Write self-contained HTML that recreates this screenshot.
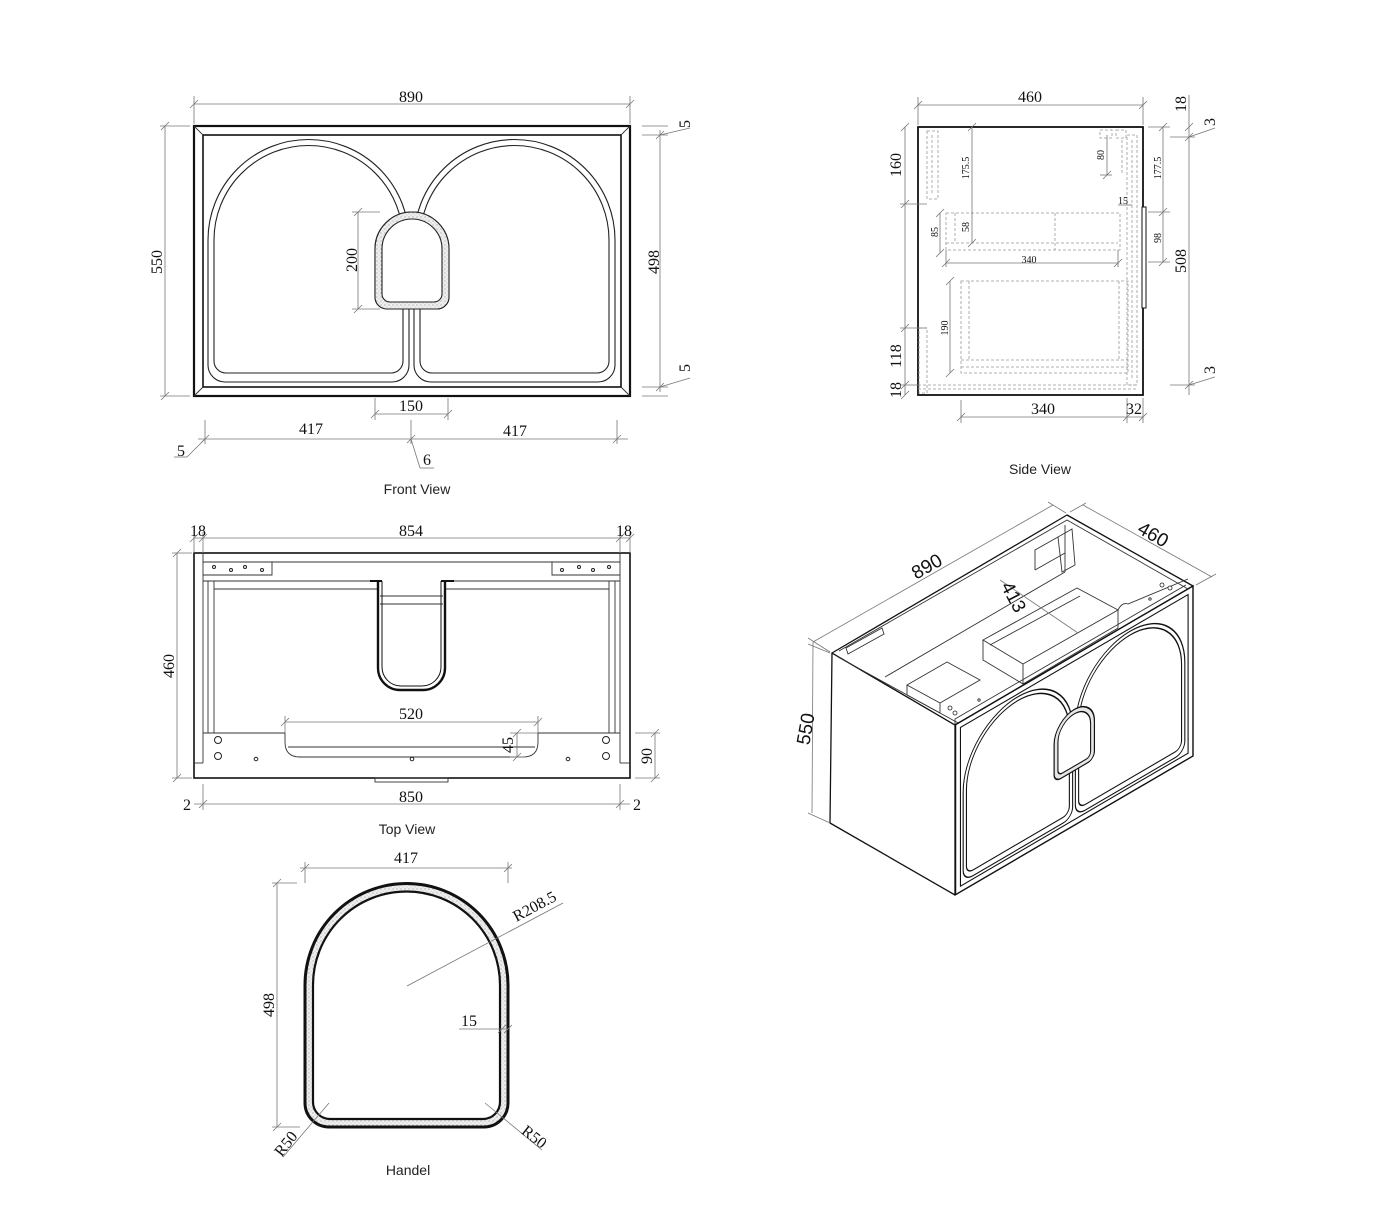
<!DOCTYPE html>
<html><head><meta charset="utf-8"><style>
html,body{margin:0;padding:0;background:#fff;}
svg{display:block;}
.o{fill:none;stroke:#111;stroke-width:1.6;}
.t{stroke:#222;stroke-width:1.1;}
.d{fill:none;stroke:#777;stroke-width:0.8;}
.k{fill:none;stroke:#333;stroke-width:0.9;}
.ds{fill:none;stroke:#999;stroke-width:0.8;stroke-dasharray:3 2;}
.n{font-family:"Liberation Serif",serif;font-size:16px;fill:#111;}
.s{font-family:"Liberation Serif",serif;font-size:10px;fill:#111;}
.lb{font-family:"Liberation Sans",sans-serif;font-size:14px;fill:#222;}
.iso{font-family:"Liberation Sans",sans-serif;font-size:19px;fill:#111;}
</style></head><body>
<svg width="1400" height="1207" viewBox="0 0 1400 1207" xmlns="http://www.w3.org/2000/svg">
<defs>
<pattern id="st" width="4" height="4" patternUnits="userSpaceOnUse"><rect width="4" height="4" fill="#eee"/><circle cx="1" cy="1" r="0.6" fill="#999"/><circle cx="3" cy="3" r="0.5" fill="#bbb"/></pattern>
</defs>

<!-- FRONT VIEW -->
<g>
<rect x="194" y="126" width="436" height="270" fill="#fff" stroke="#111" stroke-width="2.2"/>
<rect x="203" y="135" width="418" height="252" class="o"/>
<line x1="194" y1="126" x2="203" y2="135" class="k"/><line x1="630" y1="126" x2="621" y2="135" class="k"/>
<line x1="194" y1="396" x2="203" y2="387" class="k"/><line x1="630" y1="396" x2="621" y2="387" class="k"/>
<path d="M208,240 A100.5,100.5 0 0 1 409,240 L409,365 A17,17 0 0 1 392,382 L225,382 A17,17 0 0 1 208,365 Z" style="fill:#fff" class="t"/>
<path d="M214,240 A94.5,94.5 0 0 1 403,240 L403,361 A12,12 0 0 1 391,373 L226,373 A12,12 0 0 1 214,361 Z" style="fill:#fff" class="t"/>
<path d="M414,240 A100.5,100.5 0 0 1 615,240 L615,365 A17,17 0 0 1 598,382 L431,382 A17,17 0 0 1 414,365 Z" style="fill:#fff" class="t"/>
<path d="M420,240 A94.5,94.5 0 0 1 609,240 L609,361 A12,12 0 0 1 597,373 L432,373 A12,12 0 0 1 420,361 Z" style="fill:#fff" class="t"/>
<path d="M375,249 A37,37 0 0 1 449,249 L449,297 A12,12 0 0 1 437,309 L387,309 A12,12 0 0 1 375,297 Z" style="fill:#e6e6e6" class="t"/>
<path d="M375,249 A37,37 0 0 1 449,249 L449,297 A12,12 0 0 1 437,309 L387,309 A12,12 0 0 1 375,297 Z" style="fill:url(#st)" class="t"/>
<path d="M382,249 A30,30 0 0 1 442,249 L442,294 A8,8 0 0 1 434,302 L390,302 A8,8 0 0 1 382,294 Z" style="fill:#fff" class="t"/>
</g>
<g class="d">
<line x1="194" y1="104" x2="630" y2="104"/><line x1="194" y1="96" x2="194" y2="124"/><line x1="630" y1="96" x2="630" y2="124"/>
<line x1="190" y1="108" x2="198" y2="100"/><line x1="626" y1="108" x2="634" y2="100"/>
<line x1="165" y1="126" x2="165" y2="396"/><line x1="160" y1="126" x2="190" y2="126"/><line x1="160" y1="396" x2="190" y2="396"/>
<line x1="161" y1="130" x2="169" y2="122"/><line x1="161" y1="400" x2="169" y2="392"/>
<line x1="660" y1="130" x2="660" y2="392"/><line x1="642" y1="135" x2="668" y2="135"/><line x1="642" y1="387" x2="668" y2="387"/>
<line x1="642" y1="126" x2="668" y2="126"/><line x1="642" y1="396" x2="668" y2="396"/>
<line x1="656" y1="139" x2="664" y2="131"/><line x1="656" y1="391" x2="664" y2="383"/>
<line x1="660" y1="135" x2="690" y2="128"/><line x1="660" y1="387" x2="690" y2="378"/>
<line x1="358" y1="212" x2="358" y2="309"/><line x1="352" y1="212" x2="380" y2="212"/><line x1="352" y1="309" x2="380" y2="309"/>
<line x1="354" y1="216" x2="362" y2="208"/><line x1="354" y1="313" x2="362" y2="305"/>
<line x1="375" y1="398" x2="375" y2="420"/><line x1="448" y1="398" x2="448" y2="420"/><line x1="375" y1="414" x2="448" y2="414"/>
<line x1="371" y1="418" x2="379" y2="410"/><line x1="444" y1="418" x2="452" y2="410"/>
<line x1="205" y1="420" x2="205" y2="444"/><line x1="411" y1="420" x2="411" y2="444"/><line x1="617" y1="420" x2="617" y2="444"/>
<line x1="198" y1="439" x2="628" y2="439"/>
<line x1="201" y1="443" x2="209" y2="435"/><line x1="407" y1="443" x2="415" y2="435"/><line x1="613" y1="443" x2="621" y2="435"/>
<line x1="205" y1="439" x2="187" y2="457"/><line x1="187" y1="457" x2="174" y2="457"/>
<line x1="411" y1="439" x2="420" y2="468"/><line x1="420" y1="468" x2="434" y2="468"/>
</g>
<text class="n" x="411" y="102" text-anchor="middle">890</text>
<text class="n" transform="translate(162,262) rotate(-90)" text-anchor="middle">550</text>
<text class="n" transform="translate(659,262) rotate(-90)" text-anchor="middle">498</text>
<text class="n" transform="translate(690,124) rotate(-90)" text-anchor="middle">5</text>
<text class="n" transform="translate(690,368) rotate(-90)" text-anchor="middle">5</text>
<text class="n" transform="translate(357,260) rotate(-90)" text-anchor="middle">200</text>
<text class="n" x="411" y="411" text-anchor="middle">150</text>
<text class="n" x="311" y="434" text-anchor="middle">417</text>
<text class="n" x="515" y="436" text-anchor="middle">417</text>
<text class="n" x="181" y="456" text-anchor="middle">5</text>
<text class="n" x="427" y="465" text-anchor="middle">6</text>
<text class="lb" x="417" y="494" text-anchor="middle">Front View</text>

<!-- SIDE VIEW -->
<rect x="918" y="127" width="225" height="268" fill="#fff" stroke="#111" stroke-width="1.8"/>
<rect x="1142" y="207" width="4" height="101" fill="#fff" stroke="#111" stroke-width="1"/>
<g class="ds">
<rect x="927" y="131" width="11" height="68"/><line x1="932" y1="135" x2="932" y2="195"/>
<rect x="1100" y="130" width="12" height="8"/><rect x="1116" y="130" width="10" height="8"/>
<rect x="1127" y="135" width="10" height="250"/><line x1="1132" y1="140" x2="1132" y2="380"/>
<line x1="1122" y1="140" x2="1122" y2="175"/>
<line x1="918" y1="385" x2="1137" y2="385"/><line x1="918" y1="389" x2="1137" y2="389"/>
<rect x="946" y="213" width="174" height="37"/><line x1="946" y1="243" x2="1118" y2="243"/>
<line x1="1055" y1="213" x2="1055" y2="250"/><line x1="955" y1="213" x2="955" y2="243"/>
<rect x="961" y="281" width="167" height="92"/><line x1="969" y1="281" x2="969" y2="360"/><line x1="1119" y1="281" x2="1119" y2="360"/>
<line x1="961" y1="360" x2="1128" y2="360"/><line x1="961" y1="367" x2="1128" y2="367"/>
<rect x="919" y="328" width="8" height="65"/>
</g>
<g class="d">
<line x1="918" y1="105" x2="1143" y2="105"/><line x1="918" y1="97" x2="918" y2="125"/><line x1="1143" y1="97" x2="1143" y2="125"/>
<line x1="914" y1="109" x2="922" y2="101"/><line x1="1139" y1="109" x2="1147" y2="101"/>
<line x1="905" y1="127" x2="905" y2="395"/><line x1="900" y1="204" x2="927" y2="204"/><line x1="900" y1="328" x2="927" y2="328"/><line x1="900" y1="385" x2="920" y2="385"/>
<line x1="901" y1="131" x2="909" y2="123"/><line x1="901" y1="208" x2="909" y2="200"/><line x1="901" y1="332" x2="909" y2="324"/><line x1="901" y1="389" x2="909" y2="381"/><line x1="901" y1="399" x2="909" y2="391"/>
<line x1="972" y1="127" x2="972" y2="243"/><line x1="968" y1="131" x2="976" y2="123"/><line x1="968" y1="247" x2="976" y2="239"/>
<line x1="1107" y1="135" x2="1107" y2="175"/><line x1="1103" y1="179" x2="1111" y2="171"/><line x1="1100" y1="175" x2="1112" y2="175"/>
<line x1="940" y1="213" x2="940" y2="253"/><line x1="936" y1="217" x2="944" y2="209"/><line x1="936" y1="257" x2="944" y2="249"/>
<line x1="946" y1="263" x2="1118" y2="263"/><line x1="946" y1="250" x2="946" y2="267"/><line x1="1118" y1="250" x2="1118" y2="267"/>
<line x1="942" y1="267" x2="950" y2="259"/><line x1="1114" y1="267" x2="1122" y2="259"/>
<line x1="1118" y1="205" x2="1132" y2="205"/>
<line x1="950" y1="281" x2="950" y2="373"/><line x1="946" y1="285" x2="954" y2="277"/><line x1="946" y1="377" x2="954" y2="369"/>
<line x1="1163" y1="127" x2="1163" y2="262"/><line x1="1148" y1="127" x2="1170" y2="127"/><line x1="1148" y1="212" x2="1170" y2="212"/><line x1="1148" y1="262" x2="1170" y2="262"/>
<line x1="1159" y1="131" x2="1167" y2="123"/><line x1="1159" y1="216" x2="1167" y2="208"/><line x1="1159" y1="266" x2="1167" y2="258"/>
<line x1="1189" y1="95" x2="1189" y2="395"/><line x1="1170" y1="137" x2="1195" y2="137"/><line x1="1170" y1="385" x2="1195" y2="385"/>
<line x1="1185" y1="141" x2="1193" y2="133"/><line x1="1185" y1="389" x2="1193" y2="381"/><line x1="1185" y1="131" x2="1193" y2="123"/>
<line x1="1189" y1="137" x2="1215" y2="128"/><line x1="1189" y1="385" x2="1215" y2="377"/>
<line x1="961" y1="417" x2="1143" y2="417"/><line x1="961" y1="400" x2="961" y2="423"/><line x1="1127" y1="398" x2="1127" y2="423"/><line x1="1143" y1="398" x2="1143" y2="423"/>
<line x1="957" y1="421" x2="965" y2="413"/><line x1="1123" y1="421" x2="1131" y2="413"/><line x1="1139" y1="421" x2="1147" y2="413"/>
</g>
<text class="n" x="1030" y="102" text-anchor="middle">460</text>
<text class="n" transform="translate(901,165) rotate(-90)" text-anchor="middle">160</text>
<text class="n" transform="translate(901,356) rotate(-90)" text-anchor="middle">118</text>
<text class="n" transform="translate(901,390) rotate(-90)" text-anchor="middle">18</text>
<text class="s" transform="translate(969,168) rotate(-90)" text-anchor="middle">175.5</text>
<text class="s" transform="translate(1104,155) rotate(-90)" text-anchor="middle">80</text>
<text class="s" x="1123" y="204" text-anchor="middle">15</text>
<text class="s" transform="translate(938,232) rotate(-90)" text-anchor="middle">85</text>
<text class="s" transform="translate(969,227) rotate(-90)" text-anchor="middle">58</text>
<text class="s" x="1029" y="263" text-anchor="middle">340</text>
<text class="s" transform="translate(948,328) rotate(-90)" text-anchor="middle">190</text>
<text class="s" transform="translate(1161,168) rotate(-90)" text-anchor="middle">177.5</text>
<text class="s" transform="translate(1161,238) rotate(-90)" text-anchor="middle">98</text>
<text class="n" transform="translate(1186,261) rotate(-90)" text-anchor="middle">508</text>
<text class="n" transform="translate(1186,104) rotate(-90)" text-anchor="middle">18</text>
<text class="n" transform="translate(1215,122) rotate(-90)" text-anchor="middle">3</text>
<text class="n" transform="translate(1215,370) rotate(-90)" text-anchor="middle">3</text>
<text class="n" x="1043" y="414" text-anchor="middle">340</text>
<text class="n" x="1134" y="414" text-anchor="middle">32</text>
<text class="lb" x="1040" y="474" text-anchor="middle">Side View</text>

<!-- TOP VIEW -->
<rect x="194" y="553" width="436" height="225" fill="#fff" stroke="#111" stroke-width="1.6"/>
<g class="k">
<line x1="203" y1="553" x2="203" y2="763"/><line x1="620" y1="553" x2="620" y2="763"/>
<line x1="194" y1="763" x2="203" y2="763"/><line x1="620" y1="763" x2="630" y2="763"/>
<line x1="203" y1="562" x2="620" y2="562"/>
<polyline points="203,575 272,575 272,562"/><polyline points="620,575 552,575 552,562"/>
<line x1="203" y1="581" x2="378" y2="581"/><line x1="445" y1="581" x2="620" y2="581"/>
<line x1="214" y1="589" x2="378" y2="589"/><line x1="445" y1="589" x2="609" y2="589"/>
<line x1="208" y1="581" x2="208" y2="733"/><line x1="214" y1="581" x2="214" y2="733"/>
<line x1="609" y1="581" x2="609" y2="733"/><line x1="615" y1="581" x2="615" y2="733"/>
<path d="M203,733 L285,733 L285,742 Q285,757 300,757 L523,757 Q538,757 538,742 L538,733 L620,733"/>
<line x1="288" y1="747" x2="535" y2="747"/>
<rect x="375" y="778" width="73" height="4"/>
<line x1="380" y1="596" x2="443" y2="596"/><line x1="380" y1="604" x2="443" y2="604"/>
</g>
<path d="M378,581 L378,668 A22,22 0 0 0 400,690 L423,690 A22,22 0 0 0 445,668 L445,581" fill="none" stroke="#111" stroke-width="2.4"/>
<path d="M382,581 L382,667 A19,19 0 0 0 401,686 L422,686 A19,19 0 0 0 441,667 L441,581" fill="none" stroke="#111" stroke-width="1"/>
<line x1="370" y1="581" x2="382" y2="581" stroke="#111" stroke-width="2"/><line x1="441" y1="581" x2="454" y2="581" stroke="#111" stroke-width="2"/>
<g fill="#fff" stroke="#222" stroke-width="1">
<circle cx="214" cy="567" r="1.5"/><circle cx="231" cy="570" r="1.5"/><circle cx="245" cy="567" r="1.5"/><circle cx="262" cy="570" r="1.5"/>
<circle cx="562" cy="570" r="1.5"/><circle cx="579" cy="567" r="1.5"/><circle cx="593" cy="570" r="1.5"/><circle cx="609" cy="567" r="1.5"/>
<circle cx="218" cy="740" r="3.5"/><circle cx="218" cy="756" r="3.5"/><circle cx="606" cy="740" r="3.5"/><circle cx="606" cy="756" r="3.5"/>
<circle cx="256" cy="759" r="1.8"/><circle cx="412" cy="759" r="1.8"/><circle cx="568" cy="759" r="1.8"/>
</g>
<g class="d">
<line x1="194" y1="538" x2="630" y2="538"/><line x1="194" y1="532" x2="194" y2="553"/><line x1="203" y1="532" x2="203" y2="553"/><line x1="620" y1="532" x2="620" y2="553"/><line x1="630" y1="532" x2="630" y2="553"/>
<line x1="190" y1="542" x2="198" y2="534"/><line x1="199" y1="542" x2="207" y2="534"/><line x1="616" y1="542" x2="624" y2="534"/><line x1="626" y1="542" x2="634" y2="534"/>
<line x1="177" y1="553" x2="177" y2="778"/><line x1="172" y1="553" x2="192" y2="553"/><line x1="172" y1="778" x2="192" y2="778"/>
<line x1="173" y1="557" x2="181" y2="549"/><line x1="173" y1="782" x2="181" y2="774"/>
<line x1="285" y1="722" x2="538" y2="722"/><line x1="285" y1="716" x2="285" y2="733"/><line x1="538" y1="716" x2="538" y2="733"/>
<line x1="281" y1="726" x2="289" y2="718"/><line x1="534" y1="726" x2="542" y2="718"/>
<line x1="517" y1="733" x2="517" y2="757"/><line x1="510" y1="733" x2="538" y2="733"/><line x1="510" y1="757" x2="525" y2="757"/>
<line x1="513" y1="737" x2="521" y2="729"/><line x1="513" y1="761" x2="521" y2="753"/>
<line x1="655" y1="733" x2="655" y2="778"/><line x1="635" y1="733" x2="660" y2="733"/><line x1="635" y1="778" x2="660" y2="778"/>
<line x1="651" y1="737" x2="659" y2="729"/><line x1="651" y1="782" x2="659" y2="774"/>
<line x1="194" y1="804" x2="630" y2="804"/><line x1="203" y1="784" x2="203" y2="810"/><line x1="620" y1="784" x2="620" y2="810"/>
<line x1="199" y1="808" x2="207" y2="800"/><line x1="616" y1="808" x2="624" y2="800"/>
</g>
<text class="n" x="411" y="536" text-anchor="middle">854</text>
<text class="n" x="198" y="536" text-anchor="middle">18</text>
<text class="n" x="624" y="536" text-anchor="middle">18</text>
<text class="n" transform="translate(174,666) rotate(-90)" text-anchor="middle">460</text>
<text class="n" x="411" y="719" text-anchor="middle">520</text>
<text class="n" transform="translate(513,745) rotate(-90)" text-anchor="middle">45</text>
<text class="n" transform="translate(652,756) rotate(-90)" text-anchor="middle">90</text>
<text class="n" x="411" y="802" text-anchor="middle">850</text>
<text class="n" x="187" y="810" text-anchor="middle">2</text>
<text class="n" x="637" y="810" text-anchor="middle">2</text>
<text class="lb" x="407" y="834" text-anchor="middle">Top View</text>

<!-- HANDEL -->
<path d="M305,985 A101.5,101.5 0 0 1 508,985 L508,1103 A24,24 0 0 1 484,1127 L329,1127 A24,24 0 0 1 305,1103 Z" fill="url(#st)" stroke="#111" stroke-width="3"/>
<path d="M313,985 A93.5,93.5 0 0 1 500,985 L500,1102 A17,17 0 0 1 483,1119 L330,1119 A17,17 0 0 1 313,1102 Z" fill="#fff" stroke="#111" stroke-width="2.2"/>
<g class="d">
<line x1="300" y1="868" x2="512" y2="868"/><line x1="305" y1="862" x2="305" y2="883"/><line x1="508" y1="862" x2="508" y2="883"/>
<line x1="301" y1="872" x2="309" y2="864"/><line x1="504" y1="872" x2="512" y2="864"/>
<line x1="277" y1="883" x2="277" y2="1127"/><line x1="272" y1="883" x2="297" y2="883"/><line x1="272" y1="1127" x2="300" y2="1127"/>
<line x1="273" y1="887" x2="281" y2="879"/><line x1="273" y1="1131" x2="281" y2="1123"/>
<line x1="407" y1="986" x2="563" y2="903"/>
<line x1="459" y1="1029" x2="508" y2="1029"/><line x1="498" y1="1033" x2="506" y2="1025"/><line x1="504" y1="1033" x2="512" y2="1025"/>
<line x1="329" y1="1103" x2="283" y2="1157"/>
<line x1="485" y1="1103" x2="542" y2="1150"/>
</g>
<text class="n" x="406" y="863" text-anchor="middle">417</text>
<text class="n" transform="translate(274,1005) rotate(-90)" text-anchor="middle">498</text>
<text class="n" transform="translate(537,911) rotate(-28)" text-anchor="middle">R208.5</text>
<text class="n" x="469" y="1026" text-anchor="middle">15</text>
<text class="n" transform="translate(290,1147) rotate(-52)" text-anchor="middle">R50</text>
<text class="n" transform="translate(531,1141) rotate(38)" text-anchor="middle">R50</text>
<text class="lb" x="408" y="1175" text-anchor="middle">Handel</text>

<!-- ISO -->
<g fill="#fff" stroke="#111" stroke-width="1.3" stroke-linejoin="round">
<polygon points="832,653 955,725 955,895 830,823"/>
<polygon points="832,653 1067,515 1193,586 955,725"/>
</g>
<g class="k">
<polyline points="839,651 1067,520 1188,589"/>
<polyline points="955,725 955,719 1186,585"/>
<line x1="838" y1="657" x2="960" y2="724"/>
<line x1="885" y1="677" x2="1065" y2="572"/>
<line x1="1065" y1="572" x2="1065" y2="525"/>
<polygon points="983,640 1077,588 1118,610 1023,664"/>
<polyline points="983,640 983,660 1023,684 1118,628 1118,610"/>
<line x1="1023" y1="664" x2="1023" y2="684"/>
<line x1="990" y1="645" x2="1080" y2="596"/>
<polygon points="907,685 947,662 980,680 940,703"/>
<polyline points="907,685 907,695 940,713 940,703"/>
<line x1="1035" y1="570" x2="1065" y2="553"/><polyline points="1035,570 1035,550 1058,537"/>
<polygon points="1058,537 1072,529 1075,565 1062,572"/>
<polygon points="846,648 882,628 884,634 848,654"/>
<path d="M1118,610 q4,-8 10,-6 l60,-25"/>
</g>
<g fill="#fff" stroke="#222" stroke-width="0.8">
<circle cx="950" cy="708" r="2"/><circle cx="955" cy="713" r="2"/><circle cx="979" cy="700" r="1.2"/>
<circle cx="1162" cy="585" r="2"/><circle cx="1170" cy="588" r="2"/><circle cx="1150" cy="599" r="1.2"/>
</g>
<g transform="translate(955,725) matrix(0.5446,-0.3181,0,0.6296,0,0) translate(-193,-126)">
<rect x="194" y="126" width="436" height="270" fill="#fff" stroke="#111" stroke-width="2.6"/>
<rect x="203" y="135" width="418" height="252" fill="none" stroke="#111" stroke-width="2"/>
<path d="M208,240 A100.5,100.5 0 0 1 409,240 L409,365 A17,17 0 0 1 392,382 L225,382 A17,17 0 0 1 208,365 Z" fill="#fff" stroke="#111" stroke-width="2"/>
<path d="M214,240 A94.5,94.5 0 0 1 403,240 L403,361 A12,12 0 0 1 391,373 L226,373 A12,12 0 0 1 214,361 Z" fill="#fff" stroke="#111" stroke-width="2"/>
<path d="M414,240 A100.5,100.5 0 0 1 615,240 L615,365 A17,17 0 0 1 598,382 L431,382 A17,17 0 0 1 414,365 Z" fill="#fff" stroke="#111" stroke-width="2"/>
<path d="M420,240 A94.5,94.5 0 0 1 609,240 L609,361 A12,12 0 0 1 597,373 L432,373 A12,12 0 0 1 420,361 Z" fill="#fff" stroke="#111" stroke-width="2"/>
<path d="M375,249 A37,37 0 0 1 449,249 L449,297 A12,12 0 0 1 437,309 L387,309 A12,12 0 0 1 375,297 Z" fill="#e6e6e6" stroke="#111" stroke-width="2.2"/>
<path d="M382,249 A30,30 0 0 1 442,249 L442,294 A8,8 0 0 1 434,302 L390,302 A8,8 0 0 1 382,294 Z" fill="#fff" stroke="#111" stroke-width="2"/>
</g>
<g class="d">
<line x1="813" y1="642" x2="1053" y2="505"/><line x1="808" y1="638" x2="830" y2="652"/><line x1="1048" y1="502" x2="1066" y2="513"/>
<line x1="1083" y1="505" x2="1212" y2="577"/><line x1="1070" y1="512" x2="1086" y2="503"/><line x1="1196" y1="585" x2="1216" y2="574"/>
<line x1="813" y1="642" x2="812" y2="813"/><line x1="808" y1="644" x2="830" y2="653"/><line x1="808" y1="813" x2="830" y2="823"/>
<line x1="1000" y1="580" x2="1078" y2="633"/>
</g>
<text class="iso" transform="translate(930,572) rotate(-30)" text-anchor="middle">890</text>
<text class="iso" transform="translate(1150,540) rotate(30)" text-anchor="middle">460</text>
<text class="iso" transform="translate(1008,600) rotate(62)" text-anchor="middle">413</text>
<text class="iso" transform="translate(812,730) rotate(-80)" text-anchor="middle">550</text>
</svg>
</body></html>
